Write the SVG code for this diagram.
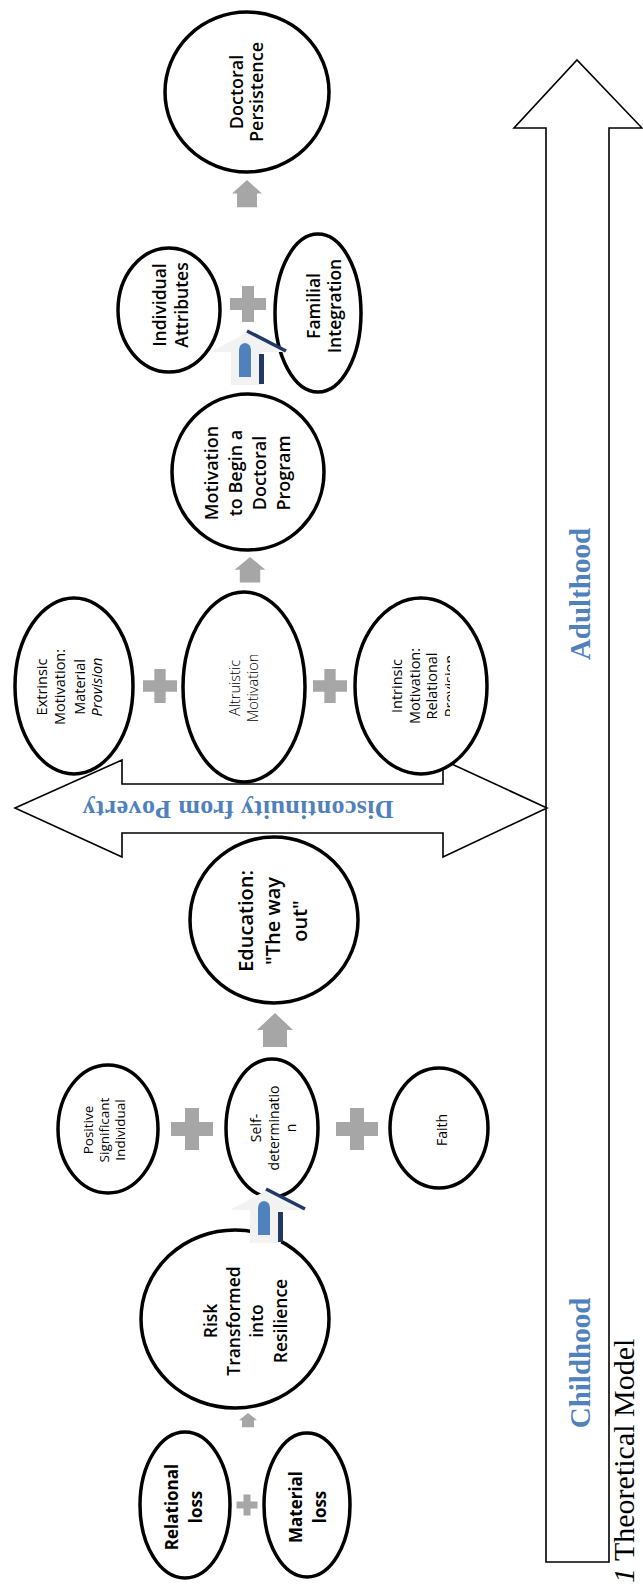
<svg xmlns="http://www.w3.org/2000/svg" width="643" height="1585" viewBox="0 0 643 1585">
<style>
.node{fill:#fff;stroke:#000;stroke-width:3.5}
.t{font-family:"Open Sans","Noto Sans","DejaVu Sans",sans-serif;fill:#000;text-anchor:middle}
.b{font-weight:600}
.bb{font-weight:700}
.lt{font-weight:300}
.gray{fill:#a6a6a6}
.band{font-family:"Liberation Serif","Times New Roman",serif;font-weight:bold;fill:#4f81bd;text-anchor:middle}
.outline{fill:#fff;stroke:#000;stroke-width:1.6;stroke-linejoin:miter}
</style>
<defs>
<path id="ga" d="M0,0 L18,17 L12,17 L12,34 L-12,34 L-12,17 L-18,17 Z"/>
<path id="plus" d="M-7,-21 h14 v14 h14 v14 h-14 v14 h-14 v-14 h-14 v-14 h14 z"/>
<g id="blue3d">
<path d="M0,0 L37,20 L14,20 L14,53 L-17,53 L-17,20 L-37,20 Z" fill="#f2f2f2"/>
<path d="M-9,45 V18 Q-9,12 -3,11 Q3,12 3,18 V45 Z" fill="#4f81bd"/>
<rect x="11" y="22" width="5" height="30" fill="#1f3864"/>
<line x1="-1" y1="-1" x2="38" y2="19" stroke="#1f3864" stroke-width="3.5"/>
</g>
<clipPath id="clipIntr"><rect x="350" y="590" width="100" height="190"/></clipPath>
</defs>

<g id="timeline">
<polygon class="outline" points="546,1562 546,128 514,128 577,60 642,128 609,128 609,1562"/>
<text class="band" font-size="29" transform="translate(590,594) rotate(-90)">Adulthood</text>
<text class="band" font-size="29" transform="translate(590,1363) rotate(-90)">Childhood</text>
</g>

<g id="discontinuity">
<polygon class="outline" points="15,808 122,760 122,784 443,784 443,760 547,808 443,857 443,833 122,833 122,857"/>
<text class="band" font-size="26" textLength="311" lengthAdjust="spacing" transform="translate(238,810) rotate(180)" y="9">Discontinuity from Poverty</text>
</g>

<g id="connectors">
<use href="#ga" class="gray" transform="translate(248,1413) scale(0.5,0.42)"/>
<use href="#plus" class="gray" transform="translate(247,1505) scale(0.5)"/>
<use href="#plus" class="gray" transform="translate(192,1129)"/>
<use href="#plus" class="gray" transform="translate(357,1129)"/>
<use href="#ga" class="gray" transform="translate(275,1013)"/>
<use href="#plus" class="gray" transform="translate(160,686) scale(0.81)"/>
<use href="#plus" class="gray" transform="translate(330,686) scale(0.81)"/>
<use href="#ga" class="gray" transform="translate(250,557) scale(0.85,0.75)"/>
<use href="#plus" class="gray" transform="translate(248,304) scale(0.86)"/>
<use href="#ga" class="gray" transform="translate(247,180) scale(0.83,0.8)"/>
</g>

<g id="n-relational-loss">
<ellipse class="node" cx="185" cy="1505" rx="45" ry="73"/>
<text class="t bb" font-size="17" transform="translate(178,1507) rotate(-90)"><tspan x="0" y="0">Relational</tspan><tspan x="0" y="24">loss</tspan></text>
</g>
<g id="n-material-loss">
<ellipse class="node" cx="307" cy="1505" rx="43" ry="72"/>
<text class="t bb" font-size="17" transform="translate(302,1507) rotate(-90)"><tspan x="0" y="0">Material</tspan><tspan x="0" y="24">loss</tspan></text>
</g>
<g id="n-risk">
<ellipse class="node" cx="235" cy="1319" rx="94" ry="89"/>
<text class="t b" font-size="17.5" transform="translate(217,1321) rotate(-90)"><tspan x="0" y="0">Risk</tspan><tspan x="0" y="23">Transformed</tspan><tspan x="0" y="46">into</tspan><tspan x="0" y="70">Resilience</tspan></text>
</g>
<g id="n-positive">
<ellipse class="node" cx="108" cy="1129" rx="50" ry="64"/>
<text class="t" font-size="13.5" transform="translate(93,1130) rotate(-90)"><tspan x="0" y="0">Positive</tspan><tspan x="0" y="16">Significant</tspan><tspan x="0" y="32">Individual</tspan></text>
</g>
<g id="n-self">
<ellipse class="node" cx="272" cy="1128" rx="46" ry="69"/>
<text class="t" font-size="14" transform="translate(261,1128) rotate(-90)"><tspan x="0" y="0">Self-</tspan><tspan x="0" y="18">determinatio</tspan><tspan x="0" y="35">n</tspan></text>
</g>
<g id="n-faith">
<ellipse class="node" cx="439" cy="1128" rx="49" ry="60"/>
<text class="t" font-size="14" transform="translate(447,1130) rotate(-90)">Faith</text>
</g>
<g id="n-education">
<ellipse class="node" cx="274" cy="920" rx="84" ry="83"/>
<text class="t b" font-size="20" transform="translate(253,921) rotate(-90)"><tspan x="0" y="0">Education:</tspan><tspan x="0" y="27">"The way</tspan><tspan x="0" y="54">out"</tspan></text>
</g>
<g id="n-extrinsic">
<ellipse class="node" cx="74" cy="686" rx="59" ry="88"/>
<text class="t" font-size="14.5" transform="translate(47,687) rotate(-90)"><tspan x="0" y="0">Extrinsic</tspan><tspan x="0" y="18">Motivation:</tspan><tspan x="0" y="38">Material</tspan><tspan x="0" y="55" font-style="italic">Provision</tspan></text>
</g>
<g id="n-altruistic">
<ellipse class="node" cx="244" cy="687" rx="61" ry="95"/>
<text class="t lt" font-size="14.5" transform="translate(240,688) rotate(-90)"><tspan x="0" y="0">Altruistic</tspan><tspan x="0" y="18">Motivation</tspan></text>
</g>
<g id="n-intrinsic">
<ellipse class="node" cx="421" cy="686" rx="66" ry="88"/>
<g clip-path="url(#clipIntr)">
<text class="t" font-size="14.5" transform="translate(402,686) rotate(-90)"><tspan x="0" y="0">Intrinsic</tspan><tspan x="0" y="18">Motivation:</tspan><tspan x="0" y="35">Relational</tspan><tspan x="0" y="53">Provision</tspan></text>
</g>
</g>
<g id="n-motivation-begin">
<ellipse class="node" cx="248" cy="472" rx="76" ry="78"/>
<text class="t b" font-size="18" transform="translate(218,473) rotate(-90)"><tspan x="0" y="0">Motivation</tspan><tspan x="0" y="24">to Begin a</tspan><tspan x="0" y="48">Doctoral</tspan><tspan x="0" y="72">Program</tspan></text>
</g>
<g id="n-individual">
<ellipse class="node" cx="169" cy="310" rx="51" ry="62"/>
<text class="t b" font-size="17.5" transform="translate(166,305) rotate(-90)"><tspan x="0" y="0">Individual</tspan><tspan x="0" y="22">Attributes</tspan></text>
</g>
<g id="n-familial">
<ellipse class="node" cx="318" cy="313" rx="43" ry="79"/>
<text class="t b" font-size="17.5" transform="translate(320,306) rotate(-90)"><tspan x="0" y="0">Familial</tspan><tspan x="0" y="21">Integration</tspan></text>
</g>
<g id="n-doctoral-persistence">
<ellipse class="node" cx="247" cy="92" rx="82" ry="80"/>
<text class="t b" font-size="18" transform="translate(243,92) rotate(-90)"><tspan x="0" y="0">Doctoral</tspan><tspan x="0" y="20">Persistence</tspan></text>
</g>

<g id="connectors-3d">
<use href="#blue3d" transform="translate(267,1190)"/>
<use href="#blue3d" transform="translate(248,332)"/>
</g>

<g id="caption">
<text font-family="Liberation Serif,'Times New Roman',serif" font-size="30" fill="#000" transform="translate(634,1583) rotate(-90)"><tspan font-style="italic">1</tspan> Theoretical Model</text>
</g>
</svg>
